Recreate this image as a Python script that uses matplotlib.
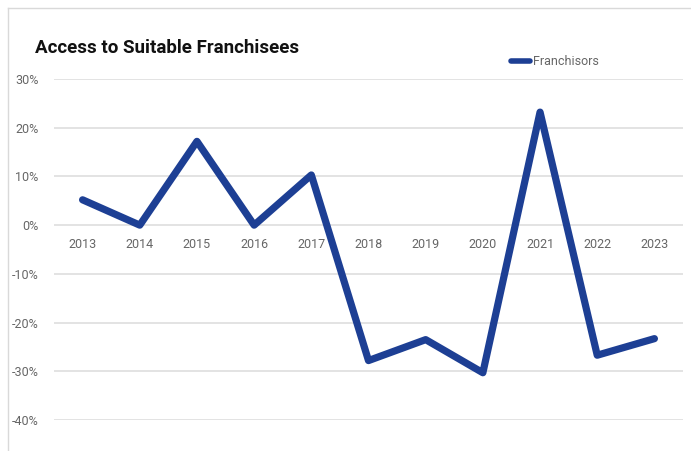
import numpy as np
import matplotlib
matplotlib.use("Agg")
from matplotlib import pyplot as plt
from matplotlib.lines import Line2D
from matplotlib.ticker import FuncFormatter

# survey results, share of franchisors (net %)
years = ["2013", "2014", "2015", "2016", "2017", "2018",
         "2019", "2020", "2021", "2022", "2023"]
franchisors = [5.2, 0.0, 17.2, 0.0, 10.3, -27.8,
               -23.5, -30.3, 23.2, -26.7, -23.3]
y_ticks = [30, 20, 10, 0, -10, -20, -30, -40]

plt.rcParams['font.family'] = ['Roboto', 'DejaVu Sans']

fig = plt.figure(figsize=(6.91, 4.51), dpi=100)
ax = fig.add_axes([54 / 691, 1 - 420 / 451, 629 / 691, 341 / 451])

x = np.arange(len(years))
ax.plot(x, franchisors, color='#1d3f94', linewidth=5.2,
        solid_joinstyle='round', solid_capstyle='round',
        label='Franchisors', clip_on=False, zorder=3)

ax.set_xlim(-0.5, len(years) - 0.5)
ax.set_ylim(-40, 30)
ax.set_yticks(y_ticks)
ax.yaxis.set_major_formatter(FuncFormatter(lambda v, p: f"{v:.0f}%".replace("\u2212", "-")))
ax.grid(axis='y', color='#e3e3e3', linewidth=1.4)
ax.set_axisbelow(True)

# category labels sit right under the zero line
ax.set_xticks(x)
ax.set_xticklabels(years)
ax.spines['bottom'].set_position(('data', 0))
for s in ax.spines.values():
    s.set_visible(False)
ax.tick_params(axis='both', length=0, labelsize=9, labelcolor='#666666')
ax.tick_params(axis='x', pad=9)
ax.tick_params(axis='y', pad=11)

leg = ax.legend(loc='center left', bbox_to_anchor=(0.727, 1.05), frameon=False,
                fontsize=9, handlelength=1.5, handletextpad=0.2, borderpad=0,
                borderaxespad=0)
for t in leg.get_texts():
    t.set_color('#666666')
for h in leg.get_lines():
    h.set_linewidth(4)

fig.text(35 / 691, 1 - 48 / 451, "Access to Suitable Franchisees",
         fontsize=13.5, fontweight='bold', color='#111111', va='center')

# thin frame on the top and left edges
fig.add_artist(Line2D([8 / 691, 1], [1 - 8 / 451, 1 - 8 / 451],
                      transform=fig.transFigure, color='#d9d9d9', linewidth=1))
fig.add_artist(Line2D([8 / 691, 8 / 691], [0, 1 - 8 / 451],
                      transform=fig.transFigure, color='#d9d9d9', linewidth=1))

fig.savefig("out.png", dpi=100)
